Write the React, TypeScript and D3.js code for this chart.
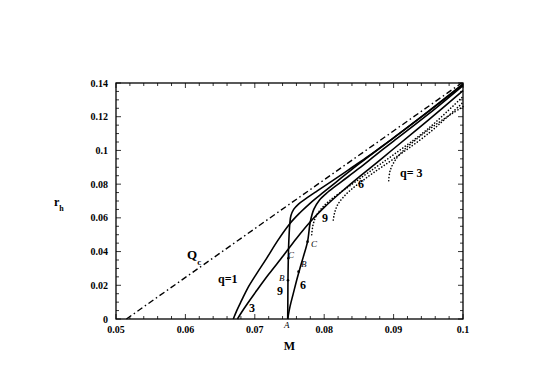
import React from 'react';
import * as d3 from 'd3';

// tick values on both axes
const mTicks = [0.05, 0.06, 0.07, 0.08, 0.09, 0.1];
const mTickLabels = ['0.05', '0.06', '0.07', '0.08', '0.09', '0.1'];
const rTicks = [0, 0.02, 0.04, 0.06, 0.08, 0.1, 0.12, 0.14];
const rTickLabels = ['0', '0.02', '0.04', '0.06', '0.08', '0.1', '0.12', '0.14'];

// Qc line (dash-dot)
const qcLine = [[0.0515, 0], [0.0998, 0.14]];

// solid branches  [M, r_h]
const solidQ1 = [[0.0669, 0], [0.0674, 0.005], [0.0681, 0.011], [0.0690, 0.0185], [0.0702, 0.0265], [0.0717, 0.036],
  [0.0733, 0.0465], [0.0751, 0.0568], [0.0765, 0.0630], [0.0780, 0.0688], [0.0800, 0.0755], [0.0825, 0.0838],
  [0.0850, 0.0920], [0.0900, 0.1075], [0.0950, 0.1230], [0.1, 0.1390]];
const solidQ3 = [[0.0675, 0], [0.0681, 0.004], [0.0690, 0.0095], [0.0703, 0.0170], [0.0720, 0.0265], [0.0741, 0.0375],
  [0.0760, 0.0478], [0.0780, 0.0577], [0.0800, 0.0662], [0.0825, 0.0755], [0.0850, 0.0842], [0.0875, 0.0925],
  [0.0900, 0.1010], [0.0950, 0.1180], [0.1, 0.1355]];
const solidQ6 = [[0.07474, 0], [0.07507, 0.0073], [0.07555, 0.0152], [0.07604, 0.0231], [0.0765, 0.030], [0.0770, 0.037],
  [0.0776, 0.0459], [0.0780, 0.0577], [0.0785, 0.0650], [0.0793, 0.0705], [0.0805, 0.0752], [0.0825, 0.0815],
  [0.0850, 0.0893], [0.0875, 0.0975], [0.0900, 0.1055], [0.0950, 0.1215], [0.1, 0.1385]];
const solidQ9 = [[0.07474, 0], [0.07476, 0.010], [0.07478, 0.023], [0.07483, 0.036], [0.0749, 0.046], [0.07505, 0.0568],
  [0.0752, 0.0612], [0.0756, 0.0650], [0.0763, 0.0682], [0.0775, 0.0718], [0.0790, 0.0760], [0.0810, 0.0815],
  [0.0835, 0.0885], [0.0860, 0.0955], [0.0900, 0.1075], [0.0950, 0.1232], [0.1, 0.1395]];

// dotted branches
const dottedQ3 = [[0.0893, 0.082], [0.0895, 0.088], [0.0902, 0.094], [0.0913, 0.0995], [0.0928, 0.105], [0.0948, 0.1115], [0.0970, 0.118], [0.1, 0.126]];
const dottedQ6 = [[0.0813, 0.0587], [0.0815, 0.063], [0.0819, 0.0675], [0.0827, 0.072], [0.0838, 0.0765], [0.0852, 0.081], [0.0870, 0.0865], [0.0900, 0.0950], [0.0950, 0.1100], [0.1, 0.1285]];
const dottedQ9 = [[0.0782, 0.050], [0.0784, 0.056], [0.0789, 0.0615], [0.0797, 0.066], [0.0808, 0.0703], [0.0823, 0.075], [0.0842, 0.0805], [0.0865, 0.0873], [0.0900, 0.0975], [0.0950, 0.1130], [0.1, 0.1320]];

// marked points on the q=6 and q=9 branches
const markPoints = [[0.07478, 0.023], [0.07483, 0.036], [0.0763, 0.0281], [0.0776, 0.0459]];

const width = 545;
const height = 380;
const margin = { left: 116, right: 82, top: 83, bottom: 61 };

const x = d3.scaleLinear().domain([0.05, 0.1]).range([margin.left, width - margin.right]);
const y = d3.scaleLinear().domain([0, 0.14]).range([height - margin.bottom, margin.top]);

const line = d3.line().x(d => x(d[0])).y(d => y(d[1])).curve(d3.curveCatmullRom.alpha(0.5));

const font = '"Liberation Serif", "Times New Roman", serif';

export default function App() {
  const x0 = x.range()[0], x1 = x.range()[1];
  const y0 = y.range()[0], y1 = y.range()[1];

  const mMinor = d3.range(0.05, 0.1001, 0.002);
  const rMinor = d3.range(0, 0.1401, 0.005);

  const solid = [solidQ1, solidQ3, solidQ6, solidQ9];
  const dotted = [dottedQ3, dottedQ6, dottedQ9];

  // curve annotations [text, px x, px baseline, size, italic]
  const notes = [
    ['q=1', 218, 283, 12, false],
    ['3', 249, 312, 12, false],
    ['9', 277, 295, 12, false],
    ['6', 300, 289, 12, false],
    ['9', 322, 222, 12, false],
    ['6', 358, 188, 12, false],
    ['q= 3', 400, 177, 12, false],
    ['B', 279, 281, 9, true],
    ['C', 288, 258, 9, true],
    ['B', 301, 267, 9, true],
    ['C', 311, 247, 9, true],
    ['A', 284, 328, 9, true],
  ];

  return (
    <svg width={width} height={height} style={{ position: 'absolute', left: 0, top: 0, background: '#fff' }}>
      <g stroke="#000" fill="none">
        {mMinor.map((v, i) => {
          const major = Math.abs(Math.round(v * 100) - v * 100) < 1e-6;
          const len = major ? 5 : 3;
          return (
            <g key={'mt' + i} strokeWidth={0.8}>
              <line x1={x(v)} x2={x(v)} y1={y0} y2={y0 - len} />
              <line x1={x(v)} x2={x(v)} y1={y1} y2={y1 + len} />
            </g>
          );
        })}
        {rMinor.map((v, i) => {
          const major = Math.abs(Math.round(v * 50) - v * 50) < 1e-6;
          const len = major ? 5 : 3;
          return (
            <g key={'rt' + i} strokeWidth={0.8}>
              <line x1={x0} x2={x0 + len} y1={y(v)} y2={y(v)} />
              <line x1={x1} x2={x1 - len} y1={y(v)} y2={y(v)} />
            </g>
          );
        })}
        <rect x={x0} y={y1} width={x1 - x0} height={y0 - y1} strokeWidth={1.3} />
      </g>

      <g fontFamily={font} fontWeight="bold" fontSize={10} fill="#000">
        {mTicks.map((v, i) => (
          <text key={'ml' + i} x={x(v)} y={333} textAnchor="middle">{mTickLabels[i]}</text>
        ))}
        {rTicks.map((v, i) => (
          <text key={'rl' + i} x={x0 - 8} y={y(v) + 3.5} textAnchor="end">{rTickLabels[i]}</text>
        ))}
        <text x={(x0 + x1) / 2} y={350} textAnchor="middle" fontSize={12}>M</text>
        <text x={54} y={206} fontSize={12}>r<tspan fontSize={8} dy={5}>h</tspan></text>
        <text x={187} y={259} fontSize={13}>Q<tspan fontSize={9} dy={6}>c</tspan></text>
      </g>

      <g fill="none" stroke="#000">
        <path d={line(qcLine)} strokeWidth={1.4} strokeDasharray="6 3 1.5 3" />
        {solid.map((c, i) => (
          <path key={'s' + i} d={line(c)} strokeWidth={1.6} />
        ))}
        {dotted.map((c, i) => (
          <path key={'d' + i} d={line(c)} strokeWidth={1.6} strokeDasharray="0.1 3" strokeLinecap="round" />
        ))}
      </g>

      <g fill="#000">
        {markPoints.map((p, i) => (
          <circle key={'p' + i} cx={x(p[0])} cy={y(p[1])} r={1.3} />
        ))}
      </g>

      <g fontFamily={font} fill="#000">
        {notes.map((n, i) => (
          <text key={'n' + i} x={n[1]} y={n[2]} fontSize={n[3]} fontWeight={n[4] ? 'normal' : 'bold'} fontStyle={n[4] ? 'italic' : 'normal'}>{n[0]}</text>
        ))}
      </g>
    </svg>
  );
}
